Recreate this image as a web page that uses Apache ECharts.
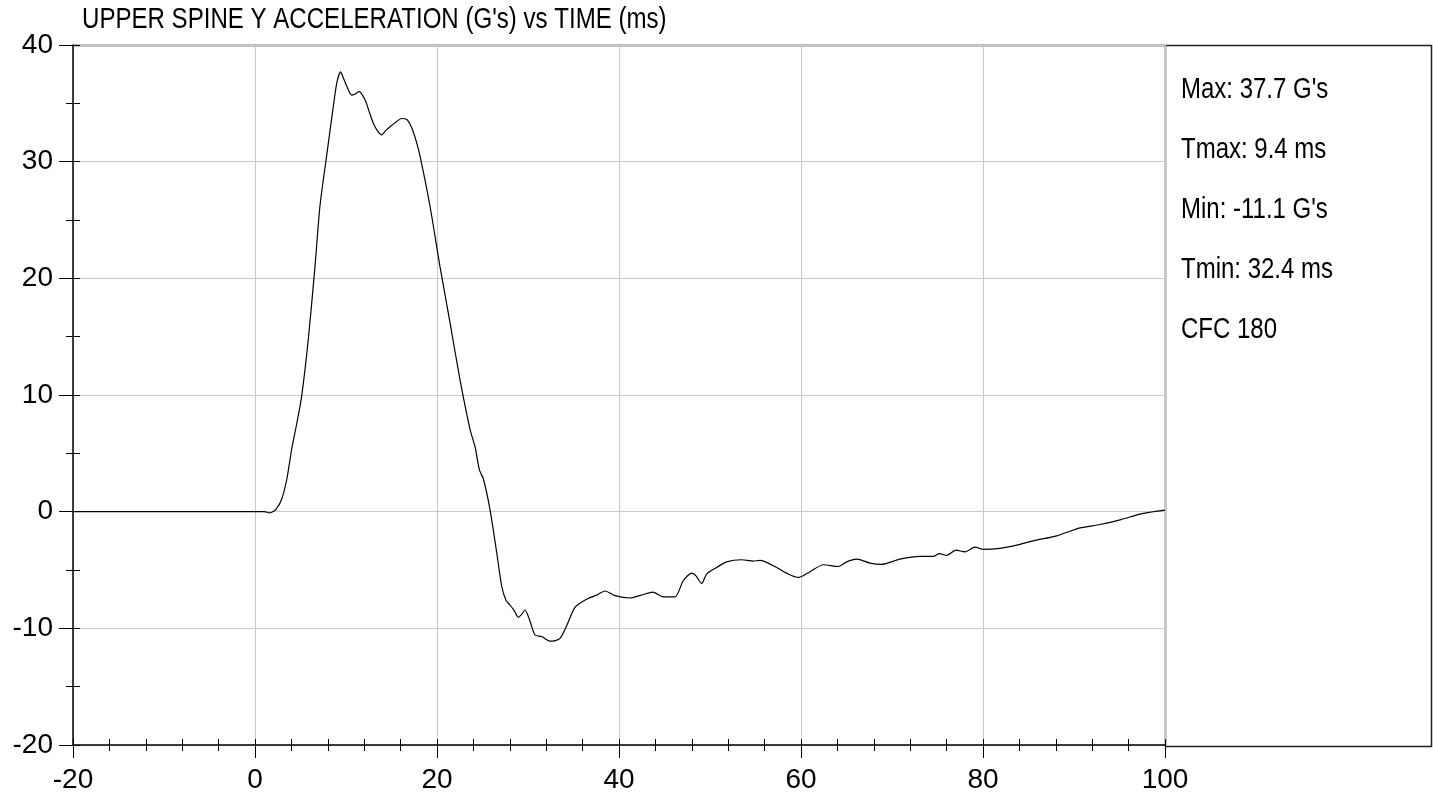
<!DOCTYPE html>
<html>
<head>
<meta charset="utf-8">
<script src="https://cdn.jsdelivr.net/npm/echarts@6/dist/echarts.min.js"></script>
<style>
html,body{margin:0;padding:0;background:#fff;}
#chart{width:1433px;height:794px;}
</style>
</head>
<body>
<div id="chart"></div>
<script>
// ---- data ----
var titleText = "UPPER SPINE Y ACCELERATION (G's) vs TIME (ms)";
var timeMs = [-20, -10, 0, 1.0, 1.65, 2.3, 2.93, 3.5, 4.03, 4.6, 5.13, 5.86, 6.59, 7.14, 7.87, 8.6, 9.0, 9.4, 9.7, 10.07, 10.62, 11.0, 11.46, 12.09, 12.5, 13.0, 13.5, 13.92, 14.4, 14.84, 15.5, 16.12, 16.7, 17.22, 17.7, 18.13, 19.23, 20.33, 21.43, 22.53, 23.63, 24.2, 24.65, 25.1, 25.82, 26.56, 27.1, 27.58, 28.02, 28.5, 28.93, 29.3, 29.67, 30.14, 30.77, 31.5, 32.0, 32.42, 33.0, 33.52, 34.25, 35.16, 36.45, 37.55, 38.46, 39.56, 41.21, 42.67, 43.7, 44.87, 46.15, 47.07, 47.99, 48.46, 49.08, 49.63, 50.73, 51.82, 53.47, 54.76, 55.49, 57.32, 58.42, 59.7, 60.99, 62.45, 64.1, 65.02, 66.12, 67.58, 68.86, 70.88, 73.08, 74.54, 75.2, 76.01, 77.03, 78.02, 79.12, 80.03, 81.87, 83.7, 85.53, 88.1, 90.66, 92.86, 95.05, 97.62, 100];
var accelG = [0, 0, 0, 0, -0.1, 0.2, 1.07, 2.8, 5.35, 7.6, 9.9, 14.8, 21.0, 26.2, 30.5, 34.7, 36.8, 37.7, 37.2, 36.5, 35.7, 35.8, 36.0, 35.3, 34.4, 33.3, 32.6, 32.3, 32.7, 33.0, 33.4, 33.7, 33.6, 32.9, 31.8, 30.5, 26.2, 21.0, 16.2, 11.3, 7.06, 5.5, 3.6, 2.8, 0.2, -3.5, -6.35, -7.6, -8.0, -8.5, -9.06, -8.8, -8.43, -9.2, -10.57, -10.7, -10.95, -11.1, -11.05, -10.86, -9.78, -8.2, -7.5, -7.15, -6.8, -7.2, -7.4, -7.1, -6.9, -7.3, -7.3, -5.9, -5.27, -5.5, -6.15, -5.35, -4.78, -4.3, -4.12, -4.24, -4.18, -4.78, -5.27, -5.64, -5.15, -4.55, -4.7, -4.3, -4.07, -4.41, -4.52, -4.07, -3.84, -3.84, -3.6, -3.75, -3.3, -3.44, -3.04, -3.24, -3.15, -2.87, -2.5, -2.07, -1.39, -1.1, -0.7, -0.15, 0.13];
var statLines = ["Max: 37.7 G's", "Tmax: 9.4 ms", "Min: -11.1 G's", "Tmin: 32.4 ms", "CFC 180"];
var xMin = -20, xMax = 100, xStep = 20, xMinorStep = 4;
var yMin = -20, yMax = 40, yStep = 10, yMinorStep = 5;

// ---- chart ----
var FONT = "'Liberation Sans', Arial, sans-serif";
var points = timeMs.map(function (t, i) { return [t, accelG[i]]; });
var chart = echarts.init(document.getElementById('chart'), null, {renderer: 'canvas'});

var gridL = 73, gridT = 45, gridR = 268, gridB = 48;
var W = 1433, H = 794;

function condensedText(str, x, y, size, sx) {
  return {
    type: 'text', silent: true, x: x, y: y, scaleX: sx, scaleY: 1,
    style: {
      text: str, fontSize: size, fontFamily: FONT, fill: '#000',
      align: 'left', verticalAlign: 'middle',
      textAlign: 'left', textVerticalAlign: 'middle'
    }
  };
}

var statGraphics = statLines.map(function (s, i) {
  return condensedText(s, 1181, 89.5 + i * 60, 30, 0.8);
});

chart.setOption({
  animation: false,
  backgroundColor: '#fff',
  grid: {left: gridL, top: gridT, right: gridR, bottom: gridB, containLabel: false},
  xAxis: [{
    type: 'value', min: xMin, max: xMax, interval: xStep,
    axisLine: {show: true, onZero: false, lineStyle: {color: '#000', width: 1.5}},
    axisTick: {show: true, length: 13, lineStyle: {color: '#000', width: 1}},
    minorTick: {show: true, splitNumber: xStep / xMinorStep, length: 6, lineStyle: {color: '#000', width: 1}},
    splitLine: {show: true, lineStyle: {color: '#c8c8c8', width: 1}},
    axisLabel: {fontFamily: FONT, fontSize: 28, color: '#000', margin: 21}
  }, {
    type: 'value', min: xMin, max: xMax, interval: xMinorStep, position: 'bottom',
    axisLine: {show: false, onZero: false},
    axisTick: {show: true, inside: true, length: 6, lineStyle: {color: '#000', width: 1}},
    splitLine: {show: false}, axisLabel: {show: false}
  }],
  yAxis: [{
    type: 'value', min: yMin, max: yMax, interval: yStep,
    axisLine: {show: true, onZero: false, lineStyle: {color: '#000', width: 1.5}},
    axisTick: {show: true, length: 14, lineStyle: {color: '#000', width: 1}},
    minorTick: {show: true, splitNumber: yStep / yMinorStep, length: 7, lineStyle: {color: '#000', width: 1}},
    splitLine: {show: true, lineStyle: {color: '#c8c8c8', width: 1}},
    axisLabel: {fontFamily: FONT, fontSize: 28, color: '#000', margin: 20}
  }, {
    type: 'value', min: yMin, max: yMax, interval: yMinorStep, position: 'left',
    axisLine: {show: false, onZero: false},
    axisTick: {show: true, inside: true, length: 7, lineStyle: {color: '#000', width: 1}},
    splitLine: {show: false}, axisLabel: {show: false}
  }],
  series: [{
    type: 'line', data: points, xAxisIndex: 0, yAxisIndex: 0,
    showSymbol: false, smooth: 0.25,
    lineStyle: {color: '#000', width: 1.2}
  }],
  graphic: [
    condensedText(titleText, 82, 20, 29, 0.83),
    {
      type: 'line', silent: true,
      shape: {x1: gridL, y1: gridT + 0.5, x2: W - gridR, y2: gridT + 0.5},
      style: {stroke: '#000', lineWidth: 1.5}
    }, {
      type: 'rect', silent: true,
      shape: {x: W - gridR + 0.5, y: gridT + 0.5, width: gridR - 2, height: H - gridT - gridB},
      style: {fill: 'none', stroke: '#222', lineWidth: 1.5}
    }
  ].concat(statGraphics)
});
</script>
</body>
</html>
